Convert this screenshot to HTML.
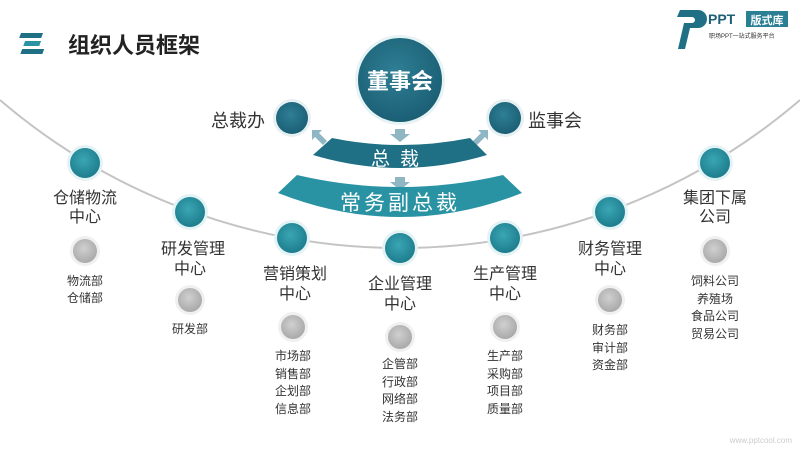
<!DOCTYPE html>
<html><head><meta charset="utf-8"><style>
body{margin:0;width:800px;height:450px;background:#fff;overflow:hidden;font-family:"Liberation Sans","Noto Sans CJK SC",sans-serif}
</style></head><body>
<svg width="800" height="450" viewBox="0 0 800 450" xmlns="http://www.w3.org/2000/svg" font-family="Liberation Sans, Noto Sans CJK SC, sans-serif">
<defs>
<radialGradient id="tg" cx="45%" cy="40%" r="60%"><stop offset="0" stop-color="#3aa6b4"/><stop offset="1" stop-color="#1d7d8d"/></radialGradient>
<radialGradient id="dg" cx="45%" cy="40%" r="60%"><stop offset="0" stop-color="#2f7f95"/><stop offset="1" stop-color="#1b5f75"/></radialGradient>
<radialGradient id="gg" cx="45%" cy="40%" r="60%"><stop offset="0" stop-color="#d0d0d0"/><stop offset="1" stop-color="#a9a9a9"/></radialGradient>
</defs>
<!-- title -->
<rect x="33" y="33" width="22" height="5" fill="#1f6f85" transform="skewX(-20)"/>
<rect x="40" y="41" width="16" height="5" fill="#2a93a3" transform="skewX(-20)"/>
<rect x="40" y="49" width="22" height="5" fill="#1f6f85" transform="skewX(-20)"/>
<text x="68" y="53" font-size="22" font-weight="bold" fill="#222">组织人员框架</text>
<!-- logo -->
<path d="M680 10h18a9 9 0 0 1 0 18h-8l-5 21h-7l6-26h8a3 3 0 0 0 0-6h-15z" fill="#1f6f85"/>
<text x="708" y="24" font-size="14" font-weight="bold" fill="#1f5f75">PPT</text>
<rect x="746" y="11" width="42" height="16" fill="#2a7f95"/>
<text x="767" y="24" font-size="11" fill="#fff" text-anchor="middle" font-weight="bold">版式库</text>
<text x="709" y="38" font-size="6" fill="#333">职场PPT一站式服务平台</text>
<!-- big arc -->
<path d="M0 100 A614.5 614.5 0 0 0 800 100" fill="none" stroke="#c4c4c4" stroke-width="2"/>
<!-- top circle -->
<circle cx="400" cy="80" r="45" fill="#e6f3f5"/>
<circle cx="400" cy="80" r="42" fill="url(#dg)"/>
<text x="400" y="89" font-size="22" font-weight="bold" fill="#fff" text-anchor="middle">董事会</text>
<!-- side circles -->
<circle cx="292" cy="118" r="19" fill="#e6f0f3"/><circle cx="292" cy="118" r="16" fill="url(#dg)"/>
<circle cx="505" cy="118" r="19" fill="#e6f0f3"/><circle cx="505" cy="118" r="16" fill="url(#dg)"/>
<text x="265" y="127" font-size="18" fill="#333" text-anchor="end">总裁办</text>
<text x="528" y="127" font-size="18" fill="#333">监事会</text>
<!-- arrows -->
<path d="M395 129h10v5h5l-10 8-10-8h5z" fill="#8fb6c4"/>
<path d="M395 177h10v5h5l-10 8-10-8h5z" fill="#8fb6c4"/>
<path d="M312 130l10 0-3 3 8 8-4 4-8-8-3 3z" fill="#8fb6c4"/>
<path d="M488 130l-10 0 3 3-8 8 4 4 8-8 3 3z" fill="#8fb6c4"/>
<!-- bands -->
<path d="M332 138 Q400 152 470 138 L487 155 Q400 181 313 155 Z" fill="#1f6f85"/>
<text x="400" y="165" font-size="19" fill="#fff" text-anchor="middle" letter-spacing="10">总裁</text>
<path d="M297 175 Q400 199 503 175 L522 193 Q400 241 278 193 Z" fill="#2a93a3"/>
<text x="400" y="210" font-size="21" fill="#fff" text-anchor="middle" letter-spacing="3">常务副总裁</text>
<!-- nodes -->
<g>
<circle cx="85" cy="163" r="18" fill="#e3f3f5"/><circle cx="85" cy="163" r="15" fill="url(#tg)"/>
<circle cx="190" cy="212" r="18" fill="#e3f3f5"/><circle cx="190" cy="212" r="15" fill="url(#tg)"/>
<circle cx="292" cy="238" r="18" fill="#e3f3f5"/><circle cx="292" cy="238" r="15" fill="url(#tg)"/>
<circle cx="400" cy="248" r="18" fill="#e3f3f5"/><circle cx="400" cy="248" r="15" fill="url(#tg)"/>
<circle cx="505" cy="238" r="18" fill="#e3f3f5"/><circle cx="505" cy="238" r="15" fill="url(#tg)"/>
<circle cx="610" cy="212" r="18" fill="#e3f3f5"/><circle cx="610" cy="212" r="15" fill="url(#tg)"/>
<circle cx="715" cy="163" r="18" fill="#e3f3f5"/><circle cx="715" cy="163" r="15" fill="url(#tg)"/>
</g>
<g>
<circle cx="85" cy="251" r="15" fill="#f0f0f0"/><circle cx="85" cy="251" r="12" fill="url(#gg)"/>
<circle cx="190" cy="300" r="15" fill="#f0f0f0"/><circle cx="190" cy="300" r="12" fill="url(#gg)"/>
<circle cx="293" cy="327" r="15" fill="#f0f0f0"/><circle cx="293" cy="327" r="12" fill="url(#gg)"/>
<circle cx="400" cy="337" r="15" fill="#f0f0f0"/><circle cx="400" cy="337" r="12" fill="url(#gg)"/>
<circle cx="505" cy="327" r="15" fill="#f0f0f0"/><circle cx="505" cy="327" r="12" fill="url(#gg)"/>
<circle cx="610" cy="300" r="15" fill="#f0f0f0"/><circle cx="610" cy="300" r="12" fill="url(#gg)"/>
<circle cx="715" cy="251" r="15" fill="#f0f0f0"/><circle cx="715" cy="251" r="12" fill="url(#gg)"/>
</g>
<g font-size="16" fill="#333" text-anchor="middle">
<text x="85" y="203">仓储物流</text><text x="85" y="222">中心</text>
<text x="193" y="254">研发管理</text><text x="190" y="274">中心</text>
<text x="295" y="279">营销策划</text><text x="295" y="299">中心</text>
<text x="400" y="289">企业管理</text><text x="400" y="309">中心</text>
<text x="505" y="279">生产管理</text><text x="505" y="299">中心</text>
<text x="610" y="254">财务管理</text><text x="610" y="274">中心</text>
<text x="715" y="203">集团下属</text><text x="715" y="222">公司</text>
</g>
<g font-size="12" fill="#333" text-anchor="middle">
<text x="85" y="285">物流部</text><text x="85" y="302">仓储部</text>
<text x="190" y="333">研发部</text>
<text x="293" y="360">市场部</text><text x="293" y="378">销售部</text><text x="293" y="395">企划部</text><text x="293" y="413">信息部</text>
<text x="400" y="368">企管部</text><text x="400" y="386">行政部</text><text x="400" y="403">网络部</text><text x="400" y="421">法务部</text>
<text x="505" y="360">生产部</text><text x="505" y="378">采购部</text><text x="505" y="395">项目部</text><text x="505" y="413">质量部</text>
<text x="610" y="334">财务部</text><text x="610" y="352">审计部</text><text x="610" y="369">资金部</text>
<text x="715" y="285">饲料公司</text><text x="715" y="303">养殖场</text><text x="715" y="320">食品公司</text><text x="715" y="338">贸易公司</text>
</g>
<text x="792" y="443" font-size="8" fill="#ccc" text-anchor="end">www.pptcool.com</text>
</svg>
</body></html>
